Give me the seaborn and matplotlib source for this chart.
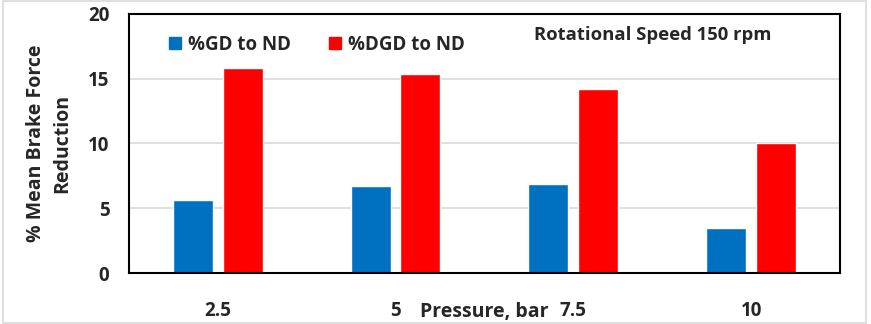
import matplotlib
matplotlib.use("Agg")
import matplotlib.pyplot as plt
import seaborn as sns
import pandas as pd
from matplotlib.patches import Rectangle

pressures = ["2.5", "5", "7.5", "10"]
gd_to_nd = [5.6, 6.7, 6.9, 3.5]
dgd_to_nd = [15.8, 15.4, 14.2, 10.0]
series_names = ["%GD to ND", "%DGD to ND"]
colors = ["#0070C0", "#FF0000"]

df = pd.DataFrame({
    "Pressure": pressures * 2,
    "Value": gd_to_nd + dgd_to_nd,
    "Series": [series_names[0]] * 4 + [series_names[1]] * 4,
})

sns.set_theme(style="white")
plt.rcParams["font.family"] = ["Open Sans", "DejaVu Sans"]
plt.rcParams["font.weight"] = "bold"

fig = plt.figure(figsize=(8.71, 3.24), dpi=100)
fig.patch.set_facecolor("white")
fig.patches.append(Rectangle((0.004, 0.003), 0.99, 0.994, transform=fig.transFigure,
                             fill=False, edgecolor="#d9d9d9", linewidth=1.2))
ax = fig.add_axes([0.148, 0.1574, 0.8164, 0.7994])

sns.barplot(data=df, x="Pressure", y="Value", hue="Series", order=pressures,
            hue_order=series_names, palette=colors, width=0.56, gap=0.196,
            saturation=1, ax=ax, legend=False)

ax.set_ylim(0, 20)
ax.set_xlim(-0.5, 3.5)
ax.set_yticks([0, 5, 10, 15, 20])
ax.yaxis.grid(True, color="#d9d9d9", linewidth=1.2)
ax.set_axisbelow(True)
for s in ax.spines.values():
    s.set_visible(True)
    s.set_color("black")
    s.set_linewidth(1.5)

ax.tick_params(axis="x", length=0, pad=20, labelsize=13.5)
ax.tick_params(axis="y", length=0, pad=14, labelsize=13.5)
for t in ax.get_xticklabels() + ax.get_yticklabels():
    t.set_fontweight("bold")

ax.set_xlabel("Pressure, bar", fontsize=14, fontweight="bold")
ax.xaxis.set_label_coords(0.5, -0.152)
ax.xaxis.label.set_va("center")
ax.set_ylabel("% Mean Brake Force\nReduction", fontsize=14, fontweight="bold",
              labelpad=11, linespacing=1.45)

handles = [Rectangle((0, 0), 1, 1, color=c) for c in colors]
ax.legend(handles, series_names, loc="upper left", bbox_to_anchor=(0.032, 0.985),
          ncol=2, frameon=False, handlelength=0.65, handleheight=0.65,
          handletextpad=0.4, columnspacing=2.0,
          prop={"weight": "bold", "size": 13.5})

ax.text(0.57, 0.92, "Rotational Speed 150 rpm", transform=ax.transAxes,
        fontsize=13.3, fontweight="bold", ha="left", va="center")

fig.savefig("out.png", dpi=100, facecolor="white")
